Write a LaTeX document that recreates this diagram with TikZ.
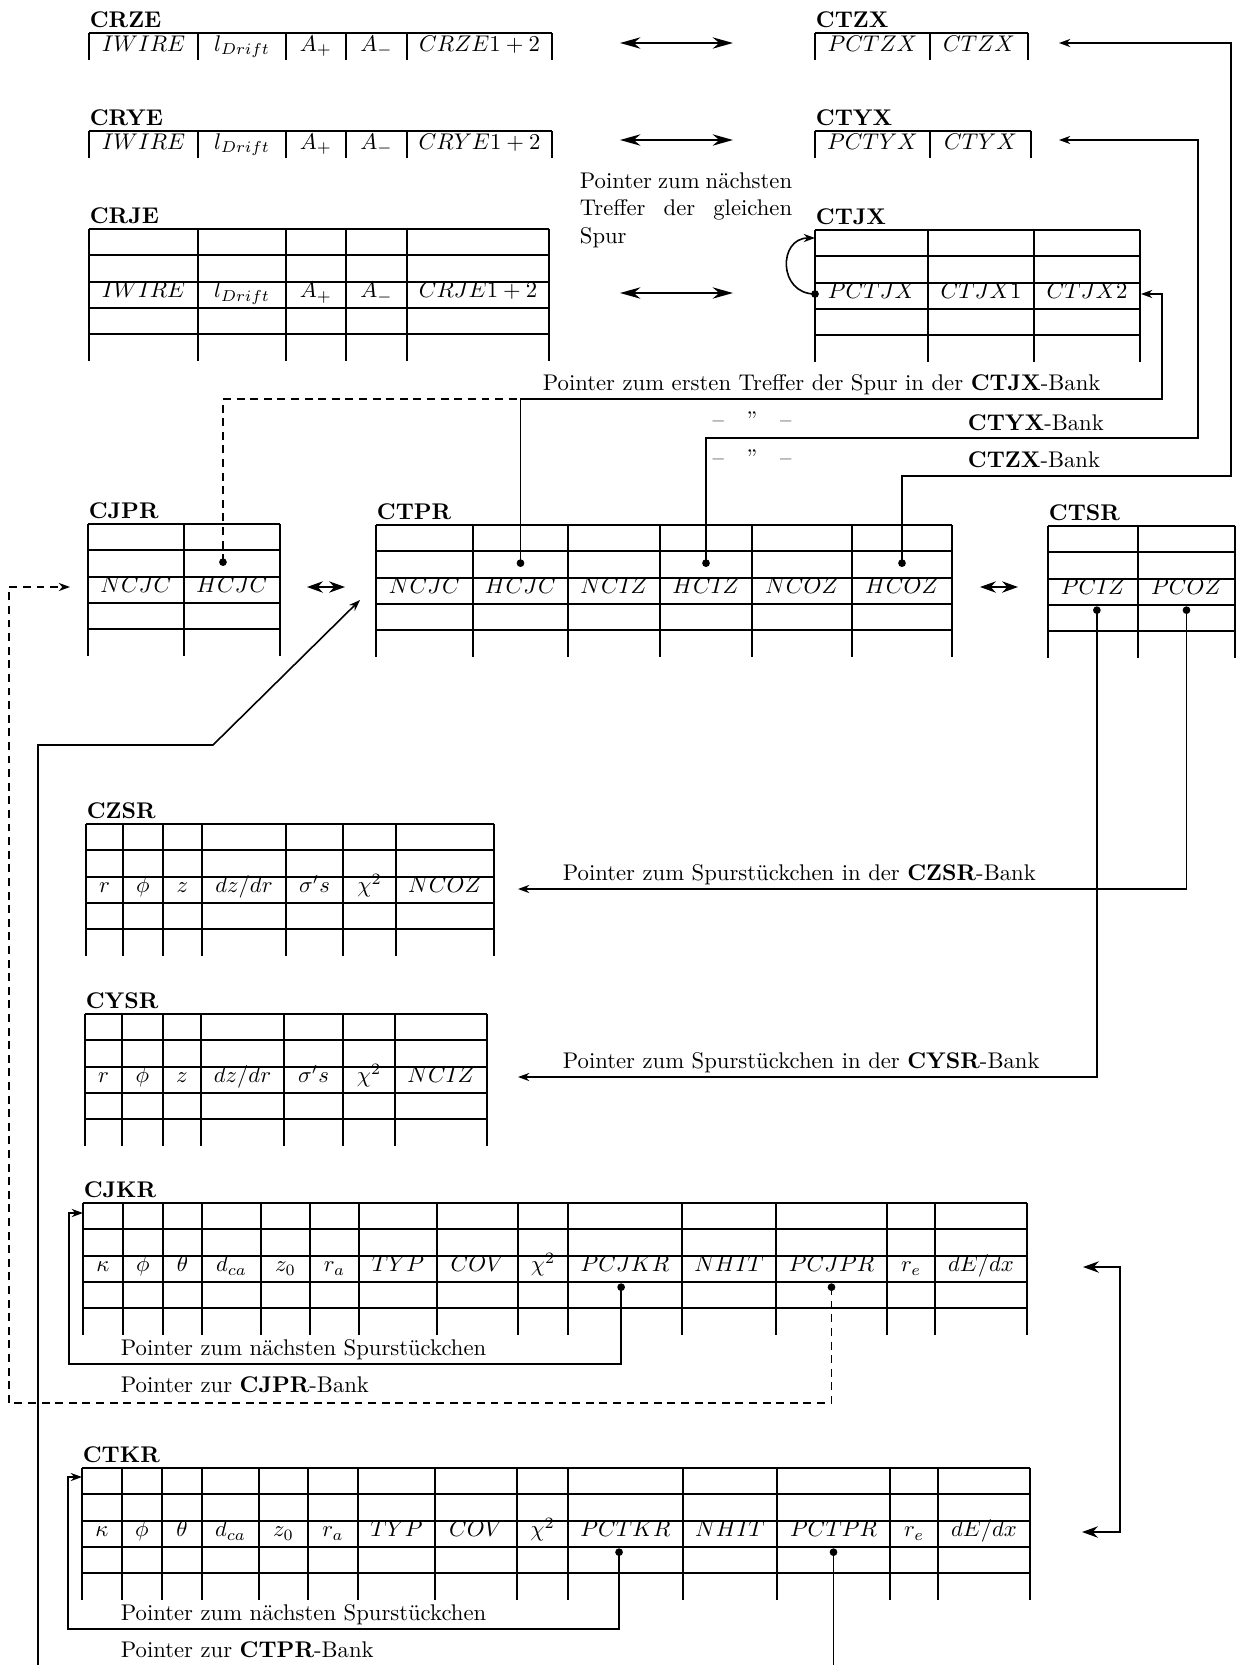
\documentclass[tikz,border=0pt]{standalone}
\usepackage{amsmath}
\usetikzlibrary{arrows.meta}

\newcommand{\rowh}{26.3}
% 五行数据表：名称, 左, 右, 上, 各列
\newcommand{\banktab}[5]{%
  \node[bankname] (#1) at (#2,#4-6) {#1};
  \foreach \k in {0,...,4} \draw[tabline] (#2,#4+\k*\rowh) -- (#3,#4+\k*\rowh);
  \draw[tabline] (#3,#4) -- (#3,#4+5*\rowh);
  \foreach \xa/\xb/\lab [count=\i] in {#5} {
    \draw[tabline] (\xa,#4) -- (\xa,#4+5*\rowh);
    \node[celltext] (#1-\i) at ({(\xa+\xb)/2},#4+2*\rowh+16) {$\lab$};
    \coordinate (#1-up-\i) at ({(\xa+\xb)/2},#4+1.45*\rowh);
    \coordinate (#1-dn-\i) at ({(\xa+\xb)/2},#4+3.2*\rowh);
  }
}
% 单行数据表
\newcommand{\banktabflat}[5]{%
  \node[bankname] (#1) at (#2,#4-6) {#1};
  \draw[tabline] (#2,#4) -- (#3,#4);
  \draw[tabline] (#3,#4) -- (#3,#4+27);
  \foreach \xa/\xb/\lab [count=\i] in {#5} {
    \draw[tabline] (\xa,#4) -- (\xa,#4+27);
    \node[celltext] (#1-\i) at ({(\xa+\xb)/2},#4+18) {$\lab$};
  }
}

\begin{document}
\begin{tikzpicture}[x=0.0155cm, y=-0.0155cm, thick,
  tabline/.style={line width=0.8pt},
  bankname/.style={font=\bfseries, anchor=base west, inner sep=0pt},
  celltext/.style={anchor=base, inner sep=0pt},
  note/.style={anchor=base west, inner sep=0pt},
  ptr/.style={line width=0.7pt, -{Stealth[length=5pt,width=3.6pt]}},
  ptrdash/.style={ptr, dash pattern=on 3.5pt off 2.5pt},
  dblarrow/.style={line width=0.8pt, {Stealth[length=9pt,width=5pt]}-{Stealth[length=9pt,width=5pt]}},
  smalldbl/.style={line width=0.8pt, {Stealth[length=7pt,width=5pt]}-{Stealth[length=7pt,width=5pt]}}]
  \useasboundingbox (0,0) rectangle (1237,1665);

  % 上部：CR*E 与 CT*X
  \banktabflat{CRZE}{89}{552}{33}{89/198/IWIRE, 198/286/l_{Drift}, 286/346/A_+, 346/407/A_-, 407/552/CRZE1+2}
  \banktabflat{CRYE}{89}{552}{131}{89/198/IWIRE, 198/286/l_{Drift}, 286/346/A_+, 346/407/A_-, 407/552/CRYE1+2}
  \banktab{CRJE}{89}{549}{229}{89/198/IWIRE, 198/286/l_{Drift}, 286/346/A_+, 346/407/A_-, 407/549/CRJE1+2}
  \banktabflat{CTZX}{815}{1028}{33}{815/930/PCTZX, 930/1028/CTZX}
  \banktabflat{CTYX}{815}{1031}{131}{815/930/PCTYX, 930/1031/CTYX}
  \banktab{CTJX}{815}{1140}{230}{815/928/PCTJX, 928/1034/CTJX1, 1034/1140/CTJX2}

  % 双向箭头
  \coordinate (zx-l) at (620,43);  \coordinate (zx-r) at (733,43);
  \coordinate (yx-l) at (620,140); \coordinate (yx-r) at (733,140);
  \coordinate (jx-l) at (620,293); \coordinate (jx-r) at (733,293);
  \draw[dblarrow] (zx-l) -- (zx-r);
  \draw[dblarrow] (yx-l) -- (yx-r);
  \draw[dblarrow] (jx-l) -- (jx-r);

  % 同一条径迹的下一个击中
  \node[anchor=north west, inner sep=0pt, text width=3.29cm] (hit-next) at (579,172)
    {\makebox[3.29cm]{Pointer\hfill zum\hfill nächsten}\\\makebox[3.29cm]{Treffer\hfill der\hfill gleichen}\\Spur};
  \coordinate (CTJX-self) at (815,294);
  \coordinate (CTJX-top) at (815,238);
  \draw[ptr] (CTJX-self) .. controls (778,294) and (778,238) .. (CTJX-top);

  % 中部：CJPR, CTPR, CTSR
  \banktab{CJPR}{88}{280}{524}{88/184/NCJC, 184/280/HCJC}
  \banktab{CTPR}{376}{952}{525}{376/473/NCJC, 473/568/HCJC, 568/660/NCIZ, 660/752/HCIZ, 752/852/NCOZ, 852/952/HCOZ}
  \banktab{CTSR}{1048}{1235}{526}{1048/1138/PCIZ, 1138/1235/PCOZ}
  \coordinate (pr-l) at (307,587);  \coordinate (pr-r) at (345,587);
  \coordinate (sr-l) at (980,587);  \coordinate (sr-r) at (1018,587);
  \draw[smalldbl] (pr-l) -- (pr-r);
  \draw[smalldbl] (sr-l) -- (sr-r);

  % CTPR 指向 CT*X
  \node[note] (hit-first) at (542,390) {Pointer zum ersten Treffer der Spur in der \textbf{CTJX}-Bank};
  \node[celltext] (ditto-yx) at (752,427) {--\quad''\quad--};
  \node[note] (lab-yx) at (967,430) {\textbf{CTYX}-Bank};
  \node[celltext] (ditto-zx) at (752,465) {--\quad''\quad--};
  \node[note] (lab-zx) at (967,467) {\textbf{CTZX}-Bank};
  \coordinate (jx-bus) at (1162,399);
  \coordinate (CTJX-in) at (1141,294);
  \coordinate (yx-bus) at (1198,438);
  \coordinate (CTYX-in) at (1059,140);
  \coordinate (zx-bus) at (1231,476);
  \coordinate (CTZX-in) at (1059,43);
  \coordinate (CJPR-dot) at ([xshift=-1.4mm]CJPR-up-2);
  \draw[ptr] (CTPR-up-2) |- (jx-bus) |- (CTJX-in);
  \draw[ptrdash, -] (CJPR-dot) |- (CTPR-up-2 |- jx-bus);
  \draw[ptr] (CTPR-up-4) |- (yx-bus) |- (CTYX-in);
  \draw[ptr] (CTPR-up-6) |- (zx-bus) |- (CTZX-in);

  % CZSR 与 CYSR
  \banktab{CZSR}{86}{494}{824}{86/123/r, 123/163/\phi, 163/202/z, 202/286/{dz/dr}, 286/343/\sigma's, 343/396/\chi^2, 396/494/NCOZ}
  \banktab{CYSR}{85}{487}{1014}{85/122/r, 122/163/\phi, 163/201/z, 201/284/{dz/dr}, 284/343/\sigma's, 343/395/\chi^2, 395/487/NCIZ}
  \node[note] (sr-z) at (562,880) {Pointer zum Spurstückchen in der \textbf{CZSR}-Bank};
  \node[note] (sr-y) at (562,1068) {Pointer zum Spurstückchen in der \textbf{CYSR}-Bank};
  \coordinate (CZSR-in) at (518,889);
  \coordinate (CYSR-in) at (518,1077);
  \coordinate (PCIZ-dot) at ([xshift=0.6mm]CTSR-dn-1);
  \draw[ptr] (CTSR-dn-2) |- (CZSR-in);
  \draw[ptr] (PCIZ-dot) |- (CYSR-in);

  % CJKR
  \banktab{CJKR}{83}{1027}{1203}{83/123/\kappa, 123/163/\phi, 163/202/\theta, 202/261/d_{ca}, 261/310/z_0, 310/359/r_a, 359/437/TYP, 437/518/COV, 518/568/\chi^2, 568/682/PCJKR, 682/776/NHIT, 776/887/PCJPR, 887/935/r_e, 935/1027/{dE/dx}}
  \node[note] (jk-next) at (120,1355) {Pointer zum nächsten Spurstückchen};
  \node[note] (jk-jp) at (120,1392) {Pointer zur \textbf{CJPR}-Bank};
  \coordinate (PCJKR-dot) at ([xshift=-0.6mm]CJKR-dn-10);
  \coordinate (jk-loop) at (69,1364);
  \coordinate (CJKR-in) at (83,1213);
  \draw[ptr] (PCJKR-dot) |- (jk-loop) |- (CJKR-in);
  \coordinate (jp-loop) at (9,1403);
  \coordinate (CJPR-in) at (70,587);
  \draw[ptrdash] (CJKR-dn-12) |- (jp-loop) |- (CJPR-in);

  % CTKR
  \banktab{CTKR}{82}{1030}{1468}{82/122/\kappa, 122/162/\phi, 162/202/\theta, 202/259/d_{ca}, 259/308/z_0, 308/358/r_a, 358/435/TYP, 435/517/COV, 517/568/\chi^2, 568/683/PCTKR, 683/777/NHIT, 777/890/PCTPR, 890/938/r_e, 938/1030/{dE/dx}}
  \node[note] (tk-next) at (120,1620) {Pointer zum nächsten Spurstückchen};
  \node[note] (tk-tp) at (120,1657) {Pointer zur \textbf{CTPR}-Bank};
  \coordinate (PCTKR-dot) at ([xshift=-1mm]CTKR-dn-10);
  \coordinate (tk-loop) at (68,1629);
  \coordinate (CTKR-in) at (82,1477);
  \draw[ptr] (PCTKR-dot) |- (tk-loop) |- (CTKR-in);
  \coordinate (tp-down) at (833,1665);
  \draw[line width=0.7pt] (CTKR-dn-12) -- (CTKR-dn-12 |- tp-down);
  \coordinate (tp-up) at (38,1665);
  \coordinate (tp-knee) at (38,745);
  \coordinate (tp-bend) at (213,745);
  \coordinate (CTPR-in) at (360,600);
  \draw[ptr] (tp-up) -- (tp-knee) -- (tp-bend) -- (CTPR-in);

  % CJKR <-> CTKR
  \coordinate (CJKR-out) at (1083,1267);
  \coordinate (CTKR-out) at (1082,1532);
  \coordinate (kr-bend) at (1120,1532);
  \draw[line width=0.8pt, {Stealth[length=7pt,width=5pt]}-{Stealth[length=7pt,width=5pt]}] (CJKR-out) -| (kr-bend) -- (CTKR-out);

  % 指针起点
  \foreach \d in {CJPR-dot, CTPR-up-2, CTPR-up-4, CTPR-up-6, PCIZ-dot, CTSR-dn-2, PCJKR-dot, CJKR-dn-12, PCTKR-dot, CTKR-dn-12, CTJX-self}
    \fill (\d) circle (1.7pt);
\end{tikzpicture}
\end{document}
